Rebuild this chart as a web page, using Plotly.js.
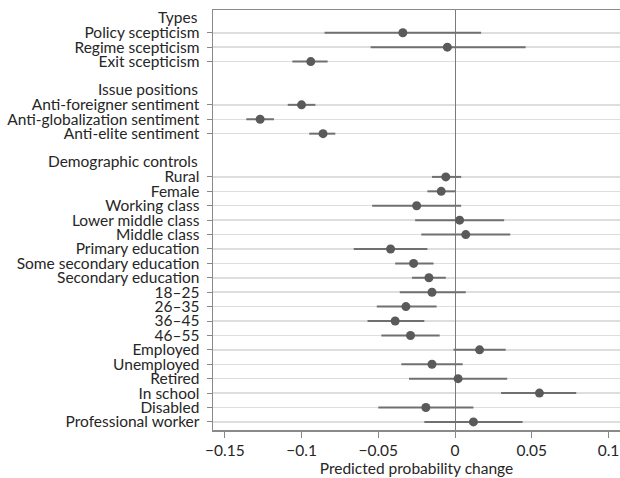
<!DOCTYPE html>
<html>
<head>
<meta charset="utf-8">
<script src="https://cdn.plot.ly/plotly-3.0.1.min.js"></script>
<style>html,body{margin:0;padding:0;background:#fff;}#chart{width:620px;height:478px;}</style>
</head>
<body>
<div id="chart"></div>
<script>
// ---- Data ----
const groupTitles = ["Types", "Issue positions", "Demographic controls"];

const typeLabels = ["Policy scepticism", "Regime scepticism", "Exit scepticism"];
const typeEst = [-0.034, -0.005, -0.094];
const typeLo  = [-0.085, -0.055, -0.106];
const typeHi  = [0.017, 0.046, -0.083];

const issueLabels = ["Anti-foreigner sentiment", "Anti-globalization sentiment", "Anti-elite sentiment"];
const issueEst = [-0.100, -0.127, -0.086];
const issueLo  = [-0.109, -0.136, -0.095];
const issueHi  = [-0.091, -0.118, -0.078];

const demoLabels = ["Rural", "Female", "Working class", "Lower middle class", "Middle class",
  "Primary education", "Some secondary education", "Secondary education",
  "18\u201325", "26\u201335", "36\u201345", "46\u201355",
  "Employed", "Unemployed", "Retired", "In school", "Disabled", "Professional worker"];
const demoEst = [-0.006, -0.009, -0.025, 0.003, 0.007, -0.042, -0.027, -0.017, -0.015,
  -0.032, -0.039, -0.029, 0.016, -0.015, 0.002, 0.055, -0.019, 0.012];
const demoLo = [-0.015, -0.018, -0.054, -0.026, -0.022, -0.066, -0.039, -0.028, -0.036,
  -0.051, -0.057, -0.048, -0.001, -0.035, -0.030, 0.030, -0.050, -0.020];
const demoHi = [0.004, 0.000, 0.004, 0.032, 0.036, -0.018, -0.014, -0.006, 0.007,
  -0.012, -0.020, -0.010, 0.033, 0.005, 0.034, 0.079, 0.012, 0.044];

const xTicks = [-0.15, -0.1, -0.05, 0, 0.05, 0.1];
const xTickText = ["\u22120.15", "\u22120.1", "\u22120.05", "0", "0.05", "0.1"];
const xTitle = "Predicted probability change";

// ---- Build rows ----
const groups = [
  {labels: typeLabels, est: typeEst, lo: typeLo, hi: typeHi},
  {labels: issueLabels, est: issueEst, lo: issueLo, hi: issueHi},
  {labels: demoLabels, est: demoEst, lo: demoLo, hi: demoHi}
];
const ys = [], xs = [], plus = [], minus = [], tickText = [];
const headerRows = [];
let row = 0;
groups.forEach((g, gi) => {
  if (gi > 0) row += 1; // blank spacer row
  headerRows.push(row);
  row += 1;
  g.labels.forEach((lab, i) => {
    ys.push(row);
    xs.push(g.est[i]);
    plus.push(g.hi[i] - g.est[i]);
    minus.push(g.est[i] - g.lo[i]);
    tickText.push(lab);
    row += 1;
  });
});
const lastRow = row - 1;

const FONT = "Lato, 'Open Sans', sans-serif";
const FS = 15.5;
const TXT = "#262626";

const trace = {
  type: "scatter",
  mode: "markers",
  x: xs,
  y: ys,
  marker: {size: 9, color: "#5a5a5a"},
  error_x: {type: "data", symmetric: false, array: plus, arrayminus: minus,
            color: "#707070", thickness: 2, width: 0},
  showlegend: false,
  hoverinfo: "x+y"
};

const annotations = headerRows.map((r, i) => ({
  xref: "paper", yref: "y", x: 0, y: r, xanchor: "right", yanchor: "middle",
  xshift: -13, yshift: 1, text: groupTitles[i], showarrow: false,
  font: {family: FONT, size: FS, color: TXT}
}));

const layout = {
  width: 620, height: 478,
  margin: {l: 213, r: 0, t: 10, b: 48},
  paper_bgcolor: "#fff", plot_bgcolor: "#fff",
  font: {family: FONT, size: FS, color: TXT},
  xaxis: {
    range: [-0.1577, 0.1075],
    tickvals: xTicks,
    ticktext: xTickText,
    ticks: "outside", ticklen: 6, tickcolor: "#888", tickwidth: 1,
    showgrid: false,
    zeroline: true, zerolinecolor: "#7a7a7a", zerolinewidth: 1,
    showline: true, linecolor: "#8a8a8a", linewidth: 1.5, mirror: true,
    title: {text: xTitle, font: {family: FONT, size: FS, color: TXT}, standoff: 4},
    tickfont: {family: FONT, size: FS, color: TXT}
  },
  yaxis: {
    range: [lastRow + 0.56, -0.58],
    tickvals: ys,
    ticktext: tickText,
    ticks: "outside", ticklen: 5, tickcolor: "#888", tickwidth: 1,
    ticklabelstandoff: 4,
    showgrid: true, gridcolor: "#dedede", gridwidth: 1.5,
    zeroline: false,
    showline: true, linecolor: "#8a8a8a", linewidth: 1.5, mirror: false,
    tickfont: {family: FONT, size: FS, color: TXT}
  },
  annotations: annotations
};

Plotly.newPlot("chart", [trace], layout, {displayModeBar: false, staticPlot: true});
</script>
</body>
</html>
